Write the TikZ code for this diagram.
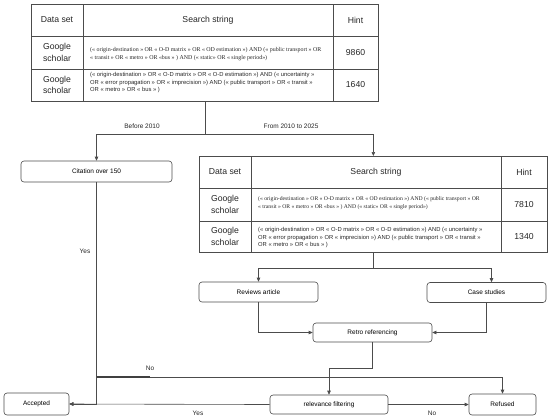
\documentclass[tikz,border=0pt]{standalone}
\usepackage{fontspec}
\setmainfont{Liberation Sans}
\newfontfamily\tnr{Liberation Serif}
\usetikzlibrary{arrows.meta}
\begin{document}
\begin{tikzpicture}[x=1bp,y=-1bp,
 line/.style={draw=black!70, line width=0.6bp},
 arr/.style={line, -{Triangle[length=4bp,width=3.5bp]}},
 tbl/.style={draw=black!70, line width=0.7bp, anchor=north west, inner sep=0},
 box/.style={draw=black!70, line width=0.6bp, rounded corners=3bp, inner sep=0, font=\fontsize{6.5}{7}\selectfont},
 cell/.style={font=\fontsize{8.7}{11.5}\selectfont, align=center, inner sep=0, text=black!85},
 qs/.style={font=\fontsize{5.85}{7.5}\selectfont, anchor=base west, inner sep=0, text=black!85},
 qt/.style={font=\tnr\fontsize{5.95}{8}\selectfont, anchor=base west, inner sep=0, text=black!85},
 lbl/.style={font=\fontsize{6.5}{7}\selectfont, inner sep=0, text=black!85},
]
\useasboundingbox (0,0) rectangle (550,419);

% ---------- table 1 ----------
\node[tbl, minimum width=347bp, minimum height=97bp] (t1) at (31,4) {};
\draw[line] (83,4) -- (83,101) (333,4) -- (333,101) (31,36) -- (378,36) (31,69) -- (378,69);
\node[cell] (t1a) at (57,20) {Data set};
\node[cell] (t1b) at (208,20) {Search string};
\node[cell] (t1c) at (355.5,20) {Hint};
\node[cell] (t1d) at (57,52.5) {Google\\scholar};
\node[cell] (t1e) at (57,85) {Google\\scholar};
\node[cell] (t1f) at (355.5,52.5) {9860};
\node[cell] (t1g) at (355.5,85) {1640};
\node[qt] (t1q1) at (90,51) {(« origin-destination » OR « O-D matrix » OR « OD estimation ») AND (« public transport » OR};
\node[qt] (t1q2) at (90,59) {« transit » OR « metro » OR «bus » ) AND (« static» OR « single period»)};
\node[qs] (t1r1) at (90,76) {(« origin-destination » OR « O-D matrix » OR « O-D estimation ») AND (« uncertainty »};
\node[qs] (t1r2) at (90,84) {OR « error propagation » OR « imprecision ») AND (« public transport » OR « transit »};
\node[qs] (t1r3) at (90,91) {OR « metro » OR « bus » )};

% ---------- table 2 ----------
\node[tbl, minimum width=348bp, minimum height=96bp] (t2) at (199,156) {};
\draw[line] (251,156) -- (251,252) (501,156) -- (501,252) (199,188) -- (547,188) (199,221) -- (547,221);
\node[cell] (t2a) at (225,172) {Data set};
\node[cell] (t2b) at (376,172) {Search string};
\node[cell] (t2c) at (524,172) {Hint};
\node[cell] (t2d) at (225,204.5) {Google\\scholar};
\node[cell] (t2e) at (225,236.5) {Google\\scholar};
\node[cell] (t2f) at (524,204.5) {7810};
\node[cell] (t2g) at (524,236.5) {1340};
\node[qt, font=\tnr\fontsize{5.7}{8}\selectfont] (t2q1) at (258,200) {(« origin-destination » OR « O-D matrix » OR « OD estimation ») AND (« public transport » OR};
\node[qt, font=\tnr\fontsize{5.7}{8}\selectfont] (t2q2) at (258,208) {« transit » OR « metro » OR «bus » ) AND (« static» OR « single period»)};
\node[qs] (t2r1) at (258,231) {(« origin-destination » OR « O-D matrix » OR « O-D estimation ») AND (« uncertainty »};
\node[qs] (t2r2) at (258,239) {OR « error propagation » OR « imprecision ») AND (« public transport » OR « transit »};
\node[qs] (t2r3) at (258,246) {OR « metro » OR « bus » )};

% ---------- boxes ----------
\node[box, minimum width=151bp, minimum height=21bp] (cit) at (96.5,171.5) {Citation over 150};
\node[box, minimum width=65bp, minimum height=22bp] (acc) at (36.5,404) {Accepted};
\node[box, minimum width=119bp, minimum height=20bp] (rev) at (258.5,292) {Reviews article};
\node[box, minimum width=119bp, minimum height=20bp] (case) at (486.5,292.5) {Case studies};
\node[box, minimum width=119bp, minimum height=19bp] (retro) at (372.5,332.5) {Retro referencing};
\node[box, minimum width=118bp, minimum height=19bp] (rel) at (329,404.5) {relevance filtering};
\node[box, minimum width=67bp, minimum height=21bp] (ref) at (502.5,404.5) {Refused};

% ---------- connectors ----------
\draw[line] (t1.south) -- ++(0,33) coordinate (sp1);
\draw[arr] (sp1) -| (cit.north);
\draw[arr] (sp1) -| (t2.north);
\node[lbl] (lb1) at (142,126) {Before 2010};
\node[lbl] (lb2) at (291,126) {From 2010 to 2025};

\draw[arr] (cit.south) |- (acc.east);
\node[lbl] (yes1) at (85,251) {Yes};

\coordinate (no1) at (96.5,377);
\draw[arr] (no1) -| (ref.north);
\draw[draw=black!75, line width=1.2bp] (no1) -- ++(53,0) coordinate (no2);
\node[lbl] (no1l) at (150,368) {No};

\draw[line] (t2.south) -- ++(0,16) coordinate (sp2);
\draw[arr] (sp2) -| (rev.north);
\draw[arr] (sp2) -| ([xshift=5bp]case.north);
\draw[arr] (rev.south) |- (retro.west);
\draw[arr] (case.south) |- (retro.east);
\draw[arr] (retro.south) -- ++(0,26) -| (rel.north);
\draw[arr] (rel.east) -- (ref.west);
\node[lbl] (no2l) at (432,413) {No};
\draw[arr] (rel.west) -- (acc.east);
\node[lbl] (yes2) at (198,413) {Yes};
\end{tikzpicture}
\end{document}
